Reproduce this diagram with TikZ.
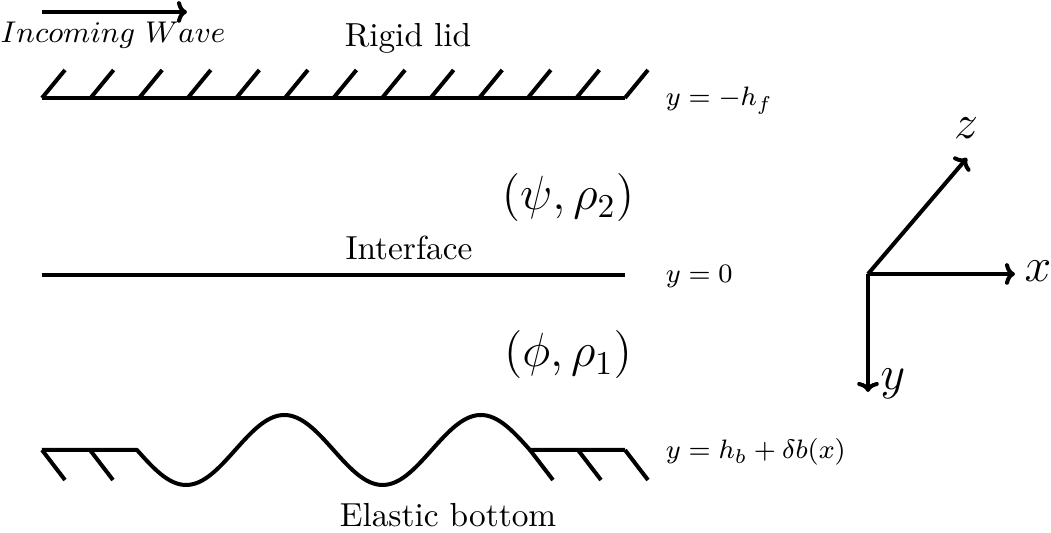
\documentclass[tikz,border=0pt]{standalone}
\usepackage{amsmath}
\usetikzlibrary{arrows.meta,positioning,calc}
\tikzset{
  wall/.style={line width=1.2pt,line join=round},
  hatch/.style={line width=1.2pt},
  axis/.style={-{To[length=3pt,width=6.5pt]},line width=1.2pt},
  lvl/.style={anchor=west,font=\fontsize{8.4}{10}\selectfont},
  pair/.style={font=\Large},
  axlab/.style={font=\Large},
}

\begin{document}
\begin{tikzpicture}[x=0.3pt,y=-0.3pt]
  \useasboundingbox (0,0) rectangle (1051,533);
  % incoming wave
  \coordinate (wavetail) at (42,12);
  \coordinate (wavehead) at (187,12);
  \draw[axis] (wavetail) -- (wavehead);
  \node[font=\fontsize{8.6}{10}\selectfont] (wave) at (113,35) {$Incoming\ Wave$};
  % rigid lid
  \draw[wall] (42,98) -- (625,98);
  \foreach \i in {0,...,12}
    \draw[hatch] ({42+48.58*\i},98) -- ++(23,-28);
  \node (lid) at (408,38) {Rigid lid};
  \node[lvl] (lidlvl) at (654,101) {$y=-h_f$};
  % interface
  \draw[wall] (42,275) -- (625,275);
  \node (iface) at (409,248) {Interface};
  \node[lvl] (ifacelvl) at (654,277) {$y=0$};
  \node[pair] (upper) at (568,198) {$(\psi,\rho_2)$};
  \node[pair] (lower) at (568,355) {$(\phi,\rho_1)$};
  % elastic bottom
  \draw[wall] (42,450) -- (137,450)
    -- plot[domain=137:530,samples=90,smooth] (\x,{450+35*sin(1.8321*(\x-137))})
    -- (625,450);
  \foreach \x in {42,90,530,578,625}
    \draw[hatch] (\x,450) -- ++(23,30);
  \node (bed) at (448,515) {Elastic bottom};
  \node[lvl] (bedlvl) at (654,452) {$y=h_b+\delta b(x)$};
  % axes
  \coordinate (O) at (868,274);
  \coordinate (xtip) at (1015,274);
  \coordinate (ztip) at (967,158);
  \coordinate (ytip) at (868,392);
  \draw[axis] (O) -- (xtip);
  \draw[axis] (O) -- (ztip);
  \draw[axis] (O) -- (ytip);
  \node[axlab] (xlab) at (1038,271) {$x$};
  \node[axlab] (zlab) at (966,128) {$z$};
  \node[axlab] (ylab) at (893,384) {$y$};
\end{tikzpicture}
\end{document}
